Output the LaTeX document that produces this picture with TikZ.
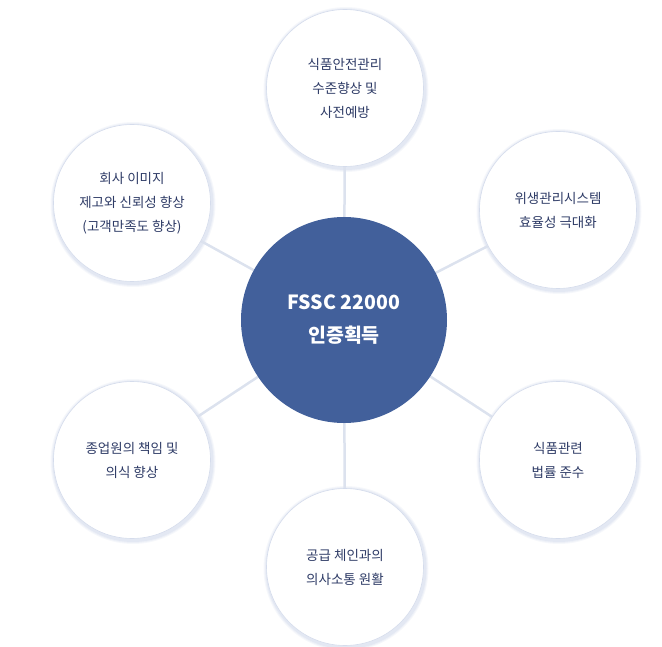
\documentclass[tikz,border=0pt]{standalone}
\usepackage{fontspec}
\setmainfont{Noto Sans CJK KR}
\definecolor{navy}{HTML}{2E3B66}
\definecolor{hub}{HTML}{42609B}
\definecolor{link}{HTML}{DCE2EE}
\definecolor{shad}{HTML}{B9C5E0}
\begin{document}
\begin{tikzpicture}[x=1pt,y=-1pt,
  sat/.style={circle,minimum size=157pt,fill=white,draw=shad!60,line width=0.6pt,
    align=center,text=navy,font=\fontsize{13.5}{24}\selectfont,inner sep=0pt},
  hubs/.style={circle,minimum size=206pt,fill=hub,text=white,align=center,
    font=\fontsize{19.5}{33}\selectfont\bfseries,inner sep=0pt},
  ln/.style={draw=link,line width=2.5pt}]
\useasboundingbox (0,0) rectangle (662,647);
\coordinate (ct) at (344,320);
\foreach \p in {(345,88),(558,210),(558,460),(345,567),(132,460),(132,203)}{
  \foreach \k/\o in {4/0.12,3/0.15,2/0.2}{
    \fill[shad,opacity=\o] \p ++(1,1.5) circle (78.5+\k);}
}
\foreach \p in {(345,88),(558,210),(558,460),(345,567),(132,460),(132,203)}{
  \path[ln] (ct) -- \p;}
\node[sat] (a) at (345,88) {식품안전관리\\수준향상 및\\사전예방};
\node[sat] (b) at (558,210) {위생관리시스템\\효율성 극대화};
\node[sat] (c) at (558,460) {식품관련\\법률 준수};
\node[sat] (d) at (345,567) {공급 체인과의\\의사소통 원활};
\node[sat] (e) at (132,460) {종업원의 책임 및\\의식 향상};
\node[sat] (f) at (132,203) {회사 이미지\\제고와 신뢰성 향상\\(고객만족도 향상)};
\node[hubs] (h) at (ct) {FSSC 22000\\인증획득};
\end{tikzpicture}
\end{document}
